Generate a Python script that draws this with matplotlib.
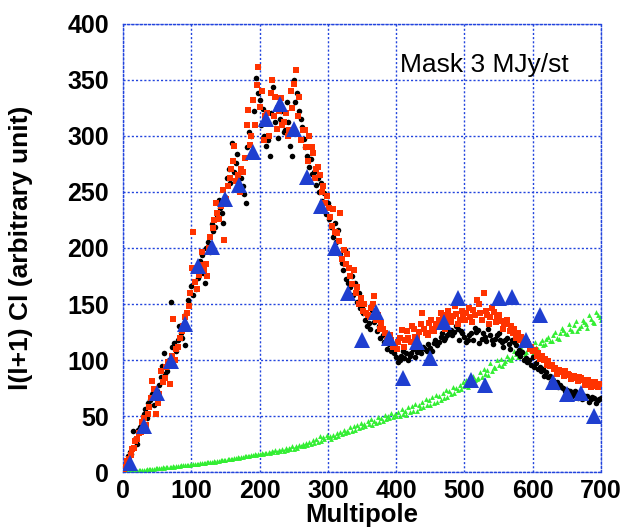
import numpy as np
import matplotlib
matplotlib.use("Agg")
import matplotlib.pyplot as plt

# multipole grids for each series (two interleaved passes per map)
l_black = np.arange(5, 701, 5)
l_black2 = np.arange(2, 700, 5)
l_red = np.arange(3, 700, 5)
l_red2 = np.arange(1, 700, 5)
l_green = np.arange(0, 701, 5)
l_green2 = np.arange(3, 700, 5)
l_bins = np.arange(10, 700, 20)

# power spectrum, map 1 (black dots)
cl_black = [10, 18, 37, 25, 40, 52, 48, 64, 60, 72,
            85, 106, 90, 152, 115, 118, 124, 113, 154, 166,
            181, 173, 194, 169, 205, 221, 219, 243, 231, 245,
            270, 294, 276, 262, 255, 240, 303, 285, 352, 332,
            324, 291, 282, 344, 326, 315, 303, 330, 291, 350,
            338, 315, 297, 282, 279, 268, 262, 258, 249, 240,
            219, 222, 216, 187, 198, 169, 175, 169, 160, 148,
            136, 133, 145, 138, 130, 122, 118, 114, 112, 103,
            100, 108, 106, 104, 110, 107, 109, 112, 108, 111,
            115, 113, 121, 118, 122, 127, 125, 128, 126, 121,
            118, 124, 129, 127, 119, 121, 128, 118, 119, 124,
            116, 118, 114, 118, 113, 109, 107, 102, 100, 103,
            97, 94, 92, 89, 86, 82, 80, 78, 75, 73,
            72, 70, 70, 68, 66, 68, 65, 66, 64, 66]
cl_black2 = [5, 14, 16, 30, 38, 44, 56, 62, 70, 68,
             78, 95, 88, 100, 112, 108, 130, 120, 142, 150,
             158, 163, 188, 178, 200, 196, 215, 228, 236, 222,
             262, 258, 268, 284, 262, 248, 290, 300, 322, 338,
             310, 300, 296, 320, 312, 298, 322, 305, 312, 282,
             330, 322, 308, 290, 272, 266, 256, 250, 242, 230,
             226, 210, 205, 195, 180, 172, 165, 158, 152, 146,
             142, 130, 128, 134, 126, 120, 116, 110, 108, 106,
             98, 104, 102, 100, 106, 103, 112, 106, 110, 114,
             108, 118, 116, 124, 120, 126, 122, 130, 118, 124,
             116, 122, 118, 125, 115, 124, 117, 122, 114, 122,
             118, 112, 120, 110, 116, 106, 104, 100, 98, 96,
             94, 92, 90, 86, 85, 80, 79, 76, 76, 72,
             71, 68, 72, 66, 65, 68, 63, 67, 62, 65]

# power spectrum, map 2 (red squares)
cl_red = [5, 12, 21, 28, 35, 45, 42, 58, 81, 52,
          70, 80, 94, 79, 137, 110, 120, 130, 142, 160,
          214, 163, 185, 180, 175, 210, 225, 231, 237, 207,
          255, 270, 291, 265, 270, 280, 323, 300, 310, 361,
          340, 318, 300, 350, 335, 322, 310, 320, 305, 325,
          359, 335, 305, 290, 300, 285, 270, 265, 255, 246,
          228, 235, 213, 231, 198, 195, 175, 180, 165, 155,
          150, 140, 146, 157, 140, 133, 124, 122, 118, 113,
          116, 127, 118, 120, 130, 121, 125, 142, 124, 133,
          128, 132, 136, 140, 134, 138, 139, 141, 136, 139,
          142, 138, 145, 154, 142, 160, 140, 138, 143, 139,
          135, 133, 136, 130, 128, 124, 121, 118, 114, 112,
          109, 106, 104, 101, 99, 96, 93, 91, 89, 90,
          87, 86, 84, 85, 82, 81, 80, 79, 77, 79]
cl_red2 = [3, 10, 15, 22, 30, 36, 48, 52, 66, 74,
           62, 90, 84, 98, 104, 100, 112, 126, 138, 148,
           182, 170, 176, 196, 186, 200, 218, 240, 226, 252,
           244, 262, 278, 260, 250, 268, 310, 292, 332, 345,
           326, 296, 320, 338, 318, 306, 334, 312, 300, 340,
           346, 318, 296, 305, 278, 290, 262, 272, 250, 240,
           236, 220, 214, 206, 190, 186, 182, 168, 160, 150,
           144, 142, 138, 150, 136, 128, 128, 118, 122, 112,
           110, 120, 112, 126, 116, 128, 120, 132, 128, 122,
           136, 126, 130, 142, 128, 144, 134, 148, 132, 144,
           136, 146, 134, 140, 150, 136, 144, 132, 146, 134,
           140, 128, 132, 126, 124, 120, 118, 114, 116, 110,
           108, 104, 101, 100, 96, 95, 92, 88, 90, 86,
           88, 83, 86, 81, 84, 78, 82, 76, 80, 76]

# foreground / noise term (green)
cl_green = [0, 0.5, 1, 1, 1.5, 2, 2, 2.5, 3, 3,
            3.5, 4, 4, 4.5, 5, 5, 5.5, 6, 6, 6.5, 7,
            7, 7.5, 8, 8, 9, 9, 9.5, 10, 10.5, 11,
            11.5, 12, 12.5, 13, 13.5, 14, 14.5, 15, 15.5, 16,
            16, 17, 17, 18, 18, 19, 19, 20, 21, 21,
            22, 23, 23, 24, 25, 26, 27, 28, 30, 31,
            30, 31, 32, 34, 35, 36, 37, 38, 39, 40,
            41, 43, 42, 44, 45, 46, 47, 48, 49, 50,
            50, 52, 51, 54, 55, 55, 57, 58, 60, 60,
            62, 63, 64, 66, 67, 70, 71, 73, 74, 77,
            76, 80, 82, 84, 85, 88, 87, 90, 93, 96,
            95, 99, 101, 103, 105, 104, 108, 107, 110, 106,
            112, 115, 113, 119, 117, 122, 120, 124, 127, 123,
            128, 131, 126, 130, 134, 129, 137, 133, 140, 136]
cl_green2 = [0.3, 0.8, 1.2, 1.3, 1.8, 2.2, 2.3, 2.8, 3.2, 3.3,
             3.8, 4.2, 4.3, 4.8, 5.2, 5.3, 5.8, 6.2, 6.3, 6.8,
             7.2, 7.6, 8.2, 8.5, 9.2, 9.3, 9.8, 10.3, 10.8, 11.2,
             11.8, 12.2, 12.8, 13.2, 13.8, 14.2, 14.8, 15.2, 15.8, 16.3,
             17, 17.5, 18.2, 18.5, 19.5, 20, 20.5, 21.5, 22, 23,
             23.5, 24.5, 25, 26, 27, 29, 30, 32, 31, 33,
             32, 33, 35, 36, 38, 37, 40, 41, 42, 44,
             43, 46, 47, 46, 49, 48, 51, 50, 53, 52,
             54, 56, 55, 58, 59, 61, 60, 63, 65, 64,
             67, 69, 68, 71, 73, 72, 76, 75, 78, 80,
             82, 79, 86, 83, 89, 92, 91, 97, 94, 100,
             101, 97, 104, 100, 108, 103, 111, 105, 113, 109,
             116, 110, 118, 114, 121, 117, 125, 119, 129, 124,
             132, 126, 135, 129, 136, 132, 140, 134, 143, 138]

# binned spectrum (blue triangles)
cl_bins = [8, 41, 71, 99, 132, 184, 201, 244, 256, 286,
           315, 328, 306, 263, 237, 200, 160, 118, 143, 120,
           84, 116, 102, 134, 155, 82, 78, 155, 156, 118,
           140, 80, 70, 71, 50]

plt.rcParams['font.family'] = ['Liberation Sans', 'DejaVu Sans']

fig = plt.figure(figsize=(6.28, 5.27), dpi=100)
ax = fig.add_axes([0.196, 0.104, 0.761, 0.851])

green_style = dict(linestyle='none', marker='^', markersize=3.5,
                   color='#33ee33', markeredgewidth=0, zorder=2)
ax.plot(l_green, cl_green, **green_style)
ax.plot(l_green2, cl_green2, **green_style)

black_style = dict(linestyle='none', marker='o', markersize=4,
                   color='black', markeredgewidth=0, zorder=3)
ax.plot(l_black, cl_black, **black_style)
ax.plot(l_black2, cl_black2, **black_style)

red_style = dict(linestyle='none', marker='s', markersize=3.8,
                 color='#ff3300', markeredgewidth=0, zorder=3)
ax.plot(l_red, cl_red, **red_style)
ax.plot(l_red2, cl_red2, **red_style)

ax.plot(l_bins, cl_bins, linestyle='none', marker='^', markersize=11,
        color='#1f3fd0', markeredgewidth=0, zorder=4)

ax.set_xlim(0, 700)
ax.set_ylim(0, 400)
ax.set_xticks(range(0, 701, 100))
ax.set_yticks(range(0, 401, 50))

grid_col = '#2244dd'
ax.grid(True, color=grid_col, linestyle=(0, (1.5, 1.5)), linewidth=1)
for side in ax.spines.values():
    side.set_color(grid_col)
    side.set_linestyle((0, (1.5, 1.5)))
    side.set_linewidth(1)

ax.tick_params(length=0, labelsize=18)
ax.tick_params(axis='y', pad=10)
ax.tick_params(axis='x', pad=5)
for lab in ax.get_xticklabels() + ax.get_yticklabels():
    lab.set_fontweight('bold')

ax.set_xlabel('Multipole', fontsize=18.5, fontweight='bold', labelpad=0)
ax.set_ylabel('l(l+1) Cl (arbitrary unit)', fontsize=19, fontweight='bold', labelpad=25)

ax.text(405, 357, 'Mask 3 MJy/st', fontsize=19)

fig.savefig('out.png', dpi=100)
